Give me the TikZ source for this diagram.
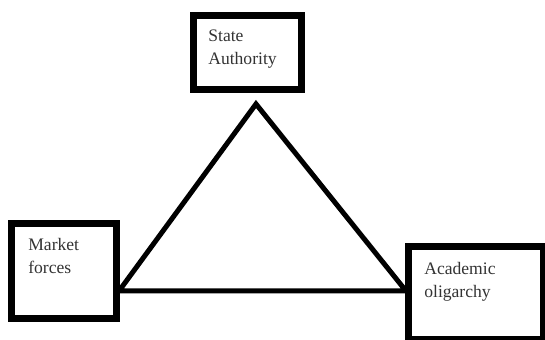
\documentclass[tikz,border=0pt]{standalone}
\usepackage{fontspec}
\setmainfont{Liberation Serif}

\begin{document}
\begin{tikzpicture}[x=0.02cm, y=-0.02cm,
		box/.style = {shape=rectangle, draw, line width=3.98pt, inner sep=0pt},
		lbl/.style = {align=left, anchor=north west, inner sep=0pt, text=black!80,
	font=\fontsize{10}{13}\selectfont},
		side/.style = {draw, line width=2.85pt, line join=miter}]
			\useasboundingbox (0,0) rectangle (545,340);
			\node[box, minimum width=2.16cm, minimum height=1.48cm] (state) at (247.5,52.5) {};
			\node[box, minimum width=2.10cm, minimum height=1.90cm] (market) at (64,271) {};
			\node[box, minimum width=2.71cm, minimum height=1.87cm] (academic) at (476.25,293.25) {};
			\node[lbl] (statetxt) at (208,30) {State \\ Authority};
			\node[lbl] (markettxt) at (28,238) {Market \\ forces};
			\node[lbl] (academictxt) at (424,262) {Academic \\ oligarchy};
			\coordinate (tip) at (256,104);
			\coordinate (leftend) at (119,291);
			\coordinate (rightend) at (406,291);
			\draw[side] (tip) -- (leftend) -- (rightend) -- cycle;
		\end{tikzpicture}
\end{document}
